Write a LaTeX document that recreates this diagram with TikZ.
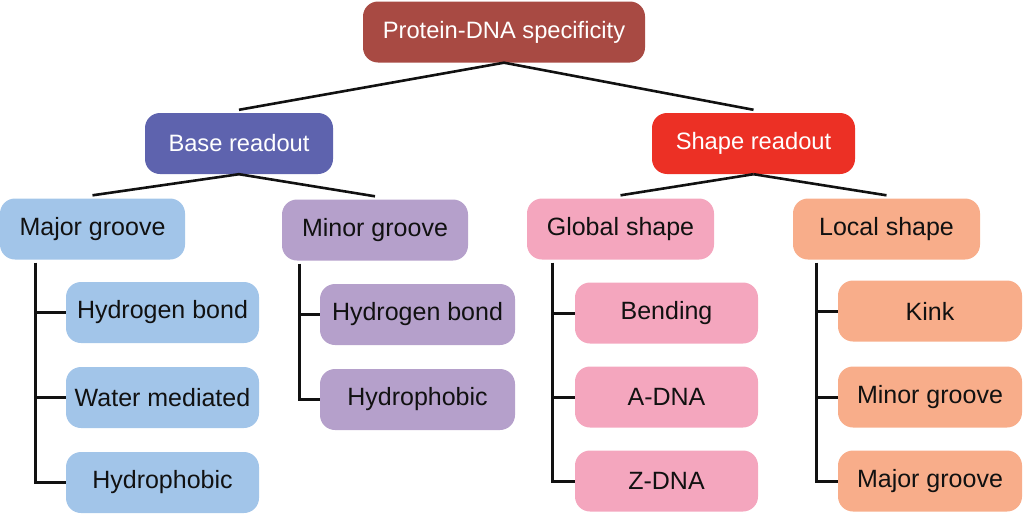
\documentclass[tikz,border=0pt]{standalone}
\usepackage{fontspec}
\setmainfont{Liberation Sans}
\usepackage{xcolor}
\usepackage{tikz}
\definecolor{rootred}{HTML}{A84A43}
\definecolor{baseblue}{HTML}{5E63AE}
\definecolor{shapered}{HTML}{EC3025}
\definecolor{majorblue}{HTML}{A2C5E9}
\definecolor{minorpurple}{HTML}{B5A0CB}
\definecolor{globalpink}{HTML}{F4A6BE}
\definecolor{localorange}{HTML}{F8AD8A}
\definecolor{ink}{HTML}{111111}

\begin{document}
\begin{tikzpicture}[
    x=1pt, y=-1pt,
    box/.style={
        rectangle, rounded corners=15pt, inner sep=0pt,
        minimum height=61pt, align=center,
        font=\fontsize{25}{30}\selectfont, text=ink
    },
    topbox/.style={box, text=white, font=\fontsize{23.7}{28}\selectfont},
    link/.style={line width=2.6pt, color=ink},
    branch/.style={line width=3pt, color=ink},
]
\useasboundingbox (0,0) rectangle (1024,514);

% Wurzel und erste Ebene
\node[topbox, fill=rootred, minimum width=282pt] (root) at (504,32) {Protein-DNA specificity};
\node[topbox, fill=baseblue, minimum width=188pt] (base) at (239,143.5) {Base readout};
\node[topbox, fill=shapered, minimum width=203pt] (shape) at (753.5,143.5) {Shape readout};

% zweite Ebene
\node[box, fill=majorblue, minimum width=185pt] (mg) at (92.5,229) {Major groove};
\node[box, fill=minorpurple, minimum width=186pt] (mn) at (375,230) {Minor groove};
\node[box, fill=globalpink, minimum width=187pt] (gs) at (620.5,229) {Global shape};
\node[box, fill=localorange, minimum width=187pt] (ls) at (886.5,229) {Local shape};

% Blaetter
\node[box, fill=majorblue, minimum width=193pt] (mg1) at (162.5,312.5) {Hydrogen bond};
\node[box, fill=majorblue, minimum width=193pt] (mg2) at (162.5,397.5) {Water mediated};
\node[box, fill=majorblue, minimum width=193pt] (mg3) at (162.5,482.5) {Hydrophobic};

\node[box, fill=minorpurple, minimum width=195pt] (mn1) at (417.5,314.5) {Hydrogen bond};
\node[box, fill=minorpurple, minimum width=195pt] (mn2) at (417.5,399.5) {Hydrophobic};

\node[box, fill=globalpink, minimum width=183pt] (gs1) at (666.5,313) {Bending};
\node[box, fill=globalpink, minimum width=183pt] (gs2) at (666.5,397) {A-DNA};
\node[box, fill=globalpink, minimum width=183pt] (gs3) at (666.5,481) {Z-DNA};

\node[box, fill=localorange, minimum width=184pt] (ls1) at (930,311) {Kink};
\node[box, fill=localorange, minimum width=184pt] (ls2) at (930,397) {Minor groove};
\node[box, fill=localorange, minimum width=184pt] (ls3) at (930,481) {Major groove};

% Verbindungen oben
\draw[link] (root.south) -- ([yshift=3pt]base.north);
\draw[link] (root.south) -- ([yshift=3pt]shape.north);
\draw[link] (base.south) -- ([yshift=3pt]mg.north);
\draw[link] (base.south) -- ([yshift=3pt]mn.north);
\draw[link] (shape.south) -- ([yshift=3pt]gs.north);
\draw[link] (shape.south) -- ([yshift=3pt]ls.north);

% Baumlinien
\coordinate (mgtop) at ([xshift=36pt,yshift=-3pt]mg.south west);
\coordinate (mntop) at ([xshift=18pt,yshift=-3pt]mn.south west);
\coordinate (gstop) at ([xshift=26pt,yshift=-3pt]gs.south west);
\coordinate (lstop) at ([xshift=24pt,yshift=-3pt]ls.south west);

\draw[branch] (mgtop) |- (mg3.west);
\draw[branch] (mntop) |- (mn2.west);
\draw[branch] (gstop) |- (gs3.west);
\draw[branch] (lstop) |- (ls3.west);

\foreach \n in {mg1,mg2} \draw[branch] (\n.west) -- (\n.west -| mgtop);
\draw[branch] (mn1.west) -- (mn1.west -| mntop);
\foreach \n in {gs1,gs2} \draw[branch] (\n.west) -- (\n.west -| gstop);
\foreach \n in {ls1,ls2} \draw[branch] (\n.west) -- (\n.west -| lstop);

\end{tikzpicture}
\end{document}
